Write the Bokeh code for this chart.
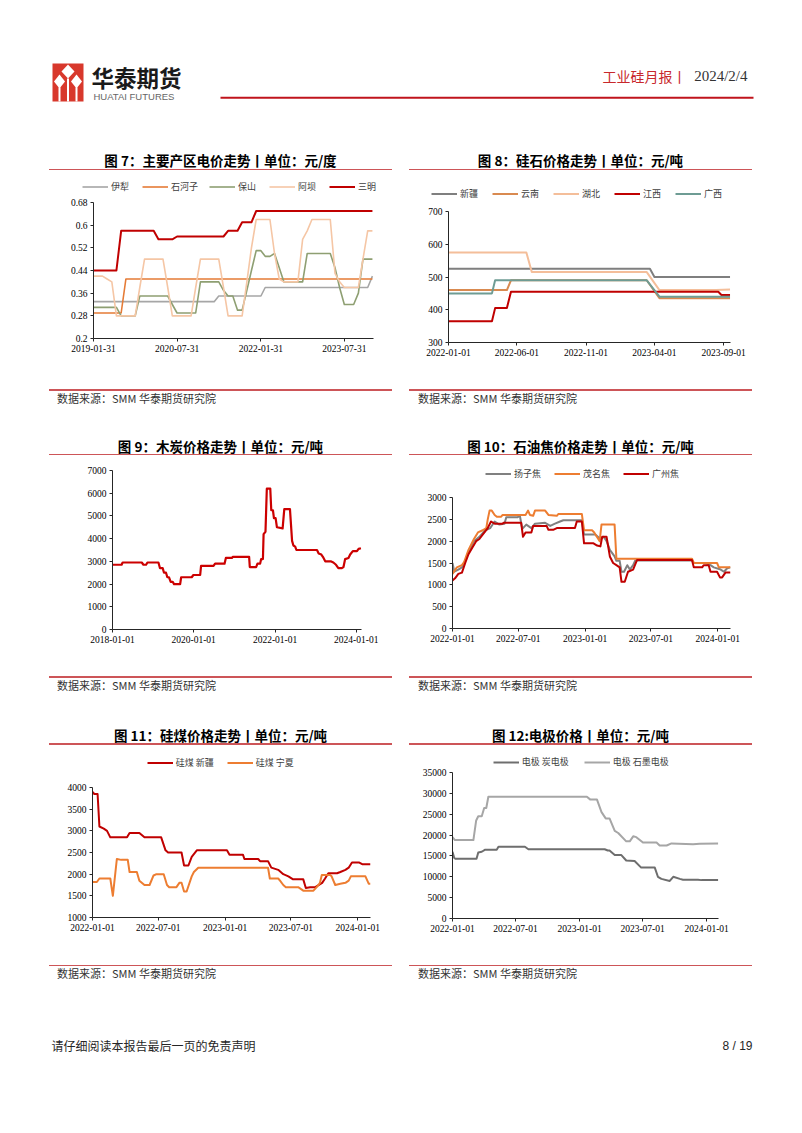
import pandas as pd
from bokeh.plotting import figure
from bokeh.layouts import column, row
from bokeh.models import Range1d, FixedTicker, Legend, LegendItem, ColumnDataSource, Div
from bokeh.core.properties import value
from bokeh.embed import file_html
from bokeh.resources import INLINE

CJK = "Noto Sans CJK SC"
SERIF = "Liberation Serif"
SANS = "Liberation Sans"

# ---------------- Chart 7: electricity price (monthly, 2019-01-31 .. 2024-01-31) ----------------
c7_first_month = "2019-01-31"
c7_names = ["伊犁", "石河子", "保山", "阿坝", "三明"]
c7_yili = [
    0.33, 0.33, 0.33, 0.33, 0.33, 0.33, 0.33, 0.33, 0.33, 0.33, 0.33, 0.33,
    0.33, 0.33, 0.33, 0.33, 0.33, 0.33, 0.33, 0.33, 0.33, 0.33, 0.33, 0.33,
    0.33, 0.33, 0.33, 0.35, 0.35, 0.35, 0.35, 0.35, 0.35, 0.35, 0.35, 0.35,
    0.35, 0.38, 0.38, 0.38, 0.38, 0.38, 0.38, 0.38, 0.38, 0.38, 0.38, 0.38,
    0.38, 0.38, 0.38, 0.38, 0.38, 0.38, 0.38, 0.38, 0.38, 0.38, 0.38, 0.38,
    0.42]
c7_shihezi = [
    0.29, 0.29, 0.29, 0.29, 0.29, 0.29, 0.29, 0.41, 0.41, 0.41, 0.41, 0.41,
    0.41, 0.41, 0.41, 0.41, 0.41, 0.41, 0.41, 0.41, 0.41, 0.41, 0.41, 0.41,
    0.41, 0.41, 0.41, 0.41, 0.41, 0.41, 0.41, 0.41, 0.41, 0.41, 0.41, 0.41,
    0.41, 0.41, 0.41, 0.41, 0.41, 0.41, 0.41, 0.41, 0.41, 0.41, 0.41, 0.41,
    0.41, 0.41, 0.41, 0.41, 0.41, 0.41, 0.41, 0.41, 0.41, 0.41, 0.41, 0.41,
    0.41]
c7_baoshan = [
    0.31, 0.31, 0.31, 0.31, 0.31, 0.31, 0.28, 0.28, 0.28, 0.28, 0.35, 0.35,
    0.35, 0.35, 0.35, 0.35, 0.35, 0.32, 0.29, 0.29, 0.29, 0.29, 0.29, 0.40,
    0.40, 0.40, 0.40, 0.40, 0.37, 0.35, 0.35, 0.30, 0.30, 0.37, 0.44, 0.51,
    0.51, 0.49, 0.49, 0.50, 0.45, 0.40, 0.40, 0.40, 0.40, 0.40, 0.50, 0.50,
    0.50, 0.50, 0.50, 0.50, 0.45, 0.38, 0.32, 0.32, 0.32, 0.36, 0.48, 0.48,
    0.48]
c7_aba = [
    0.42, 0.42, 0.42, 0.41, 0.40, 0.28, 0.28, 0.28, 0.28, 0.28, 0.38, 0.48,
    0.48, 0.48, 0.48, 0.48, 0.38, 0.28, 0.28, 0.28, 0.28, 0.28, 0.38, 0.48,
    0.48, 0.48, 0.48, 0.48, 0.38, 0.28, 0.28, 0.28, 0.28, 0.40, 0.52, 0.62,
    0.62, 0.62, 0.62, 0.50, 0.41, 0.40, 0.40, 0.40, 0.40, 0.55, 0.58, 0.62,
    0.62, 0.62, 0.62, 0.62, 0.43, 0.40, 0.38, 0.38, 0.38, 0.38, 0.48, 0.58,
    0.58]
c7_sanming = [
    0.44, 0.44, 0.44, 0.44, 0.44, 0.44, 0.58, 0.58, 0.58, 0.58, 0.58, 0.58,
    0.58, 0.58, 0.55, 0.55, 0.55, 0.55, 0.56, 0.56, 0.56, 0.56, 0.56, 0.56,
    0.56, 0.56, 0.56, 0.56, 0.56, 0.58, 0.58, 0.58, 0.61, 0.61, 0.61, 0.65,
    0.65, 0.65, 0.65, 0.65, 0.65, 0.65, 0.65, 0.65, 0.65, 0.65, 0.65, 0.65,
    0.65, 0.65, 0.65, 0.65, 0.65, 0.65, 0.65, 0.65, 0.65, 0.65, 0.65, 0.65,
    0.65]
c7_yticks = [0.2, 0.28, 0.36, 0.44, 0.52, 0.6, 0.68]
c7_ylabels = ["0.2", "0.28", "0.36", "0.44", "0.52", "0.6", "0.68"]
c7_xticks = ["2019-01-31", "2020-07-31", "2022-01-31", "2023-07-31"]

# ---------------- Chart 8: silica stone price ----------------
c8_names = ["新疆", "云南", "湖北", "江西", "广西"]
c8_xinjiang_d = ["2022-01-01", "2023-03-22", "2023-04-01", "2023-09-15"]
c8_xinjiang_v = [525, 525, 500, 500]
c8_yunnan_d = ["2022-01-01", "2022-05-10", "2022-05-19", "2023-03-15", "2023-04-12", "2023-09-15"]
c8_yunnan_v = [460, 460, 490, 490, 435, 435]
c8_hubei_d = ["2022-01-01", "2022-06-22", "2022-07-04", "2023-03-15", "2023-04-12", "2023-08-15", "2023-09-15"]
c8_hubei_v = [575, 575, 515, 515, 460, 460, 462]
c8_jiangxi_d = ["2022-01-01", "2022-04-07", "2022-04-14", "2022-05-10", "2022-05-19", "2023-08-20", "2023-08-27", "2023-09-15"]
c8_jiangxi_v = [365, 365, 405, 405, 455, 455, 445, 445]
c8_guangxi_d = ["2022-01-01", "2022-04-07", "2022-04-14", "2023-03-15", "2023-04-12", "2023-09-15"]
c8_guangxi_v = [450, 450, 490, 490, 440, 440]
c8_yticks = [300, 400, 500, 600, 700]
c8_xticks = ["2022-01-01", "2022-06-01", "2022-11-01", "2023-04-01", "2023-09-01"]

# ---------------- Chart 9: charcoal price ----------------
c9_d = ["2018-01-01", "2018-03-24", "2018-04-02", "2018-09-21", "2018-10-06", "2018-10-30", "2018-11-11",
        "2019-02-18", "2019-03-04", "2019-03-28", "2019-04-09", "2019-04-27", "2019-05-09", "2019-05-24",
        "2019-06-08", "2019-06-26", "2019-07-08", "2019-09-01", "2019-09-10", "2019-12-14", "2019-12-29",
        "2020-02-28", "2020-03-07", "2020-06-27", "2020-07-11", "2020-10-04", "2020-10-16", "2020-12-09",
        "2020-12-18", "2021-05-13", "2021-05-19", "2021-07-15", "2021-07-27", "2021-08-20", "2021-08-29",
        "2021-09-14", "2021-09-20", "2021-10-07", "2021-10-19", "2021-11-19", "2021-11-28", "2021-12-13",
        "2021-12-22", "2022-01-06", "2022-01-18", "2022-03-10", "2022-03-25", "2022-05-15", "2022-06-03",
        "2022-06-15", "2022-07-01", "2022-07-12", "2023-01-13", "2023-01-28", "2023-02-21", "2023-03-07",
        "2023-03-28", "2023-05-16", "2023-06-09", "2023-07-03", "2023-07-24", "2023-08-24", "2023-09-08",
        "2023-09-23", "2023-10-23", "2023-11-07", "2023-12-01", "2024-01-07", "2024-01-22", "2024-02-12"]
c9_v = [2850, 2850, 2950, 2950, 2850, 2850, 2950,
        2950, 2700, 2700, 2500, 2500, 2300, 2300,
        2100, 2100, 2000, 2000, 2300, 2300, 2400,
        2400, 2800, 2800, 2900, 2900, 3150, 3150,
        3200, 3200, 2750, 2750, 2900, 2900, 3100,
        3100, 4200, 4300, 6200, 6200, 5250, 5250,
        4900, 4900, 4500, 4450, 5300, 5300, 3900,
        3700, 3650, 3500, 3500, 3350, 3300, 3200,
        3000, 3000, 2950, 2850, 2700, 2700, 2750,
        3100, 3150, 3300, 3450, 3450, 3550, 3580]
c9_yticks = [0, 1000, 2000, 3000, 4000, 5000, 6000, 7000]
c9_xticks = ["2018-01-01", "2020-01-01", "2022-01-01", "2024-01-01"]

# ---------------- Chart 10: petroleum coke price ----------------
c10_names = ["扬子焦", "茂名焦", "广州焦"]
c10_yangzi_d = ["2022-01-01", "2022-01-06", "2022-01-17", "2022-01-27", "2022-02-05", "2022-02-14", "2022-03-01",
                "2022-03-16", "2022-04-01", "2022-04-15", "2022-04-27", "2022-05-10", "2022-05-24", "2022-05-29",
                "2022-06-30", "2022-07-05", "2022-07-12", "2022-07-23", "2022-08-06", "2022-08-16", "2022-09-13",
                "2022-09-27", "2022-10-10", "2022-10-24", "2022-11-02", "2022-12-23", "2022-12-29", "2023-01-29",
                "2023-02-12", "2023-02-21", "2023-03-01", "2023-03-10", "2023-03-23", "2023-03-28", "2023-04-06",
                "2023-04-11", "2023-04-18", "2023-04-27", "2023-05-04", "2023-05-13", "2023-05-19", "2023-10-22",
                "2023-10-27", "2023-11-28", "2023-12-12", "2023-12-21", "2024-01-09", "2024-01-18", "2024-01-27",
                "2024-02-05"]
c10_yangzi_v = [1500, 1300, 1350, 1400, 1550, 1750, 2000,
                2100, 2250, 2300, 2450, 2380, 2400, 2550,
                2550, 2600, 2280, 2380, 2300, 2400, 2420,
                2350, 2400, 2450, 2480, 2480, 2150, 2150,
                2050, 2100, 2000, 1800, 1650, 1550, 1550,
                1300, 1300, 1450, 1350, 1450, 1560, 1560,
                1500, 1500, 1450, 1400, 1350, 1300, 1380,
                1400]
c10_maoming_d = ["2022-01-01", "2022-01-13", "2022-01-27", "2022-02-02", "2022-02-14", "2022-03-01", "2022-03-12",
                 "2022-03-25", "2022-04-04", "2022-04-08", "2022-04-13", "2022-04-19", "2022-04-27", "2022-05-03",
                 "2022-05-15", "2022-05-19", "2022-07-21", "2022-07-28", "2022-08-02", "2022-08-11", "2022-08-16",
                 "2022-09-13", "2022-09-22", "2022-10-15", "2022-10-19", "2022-12-23", "2022-12-29", "2023-01-20",
                 "2023-01-26", "2023-02-10", "2023-02-15", "2023-03-23", "2023-03-28", "2023-10-22", "2023-10-27",
                 "2023-12-30", "2024-01-04", "2024-02-05"]
c10_maoming_v = [1250, 1400, 1450, 1520, 1800, 2050, 2200,
                 2250, 2300, 2500, 2700, 2700, 2600, 2560,
                 2560, 2600, 2600, 2700, 2600, 2580, 2700,
                 2700, 2600, 2580, 2620, 2620, 2250, 2250,
                 2200, 2000, 2380, 2380, 1600, 1600, 1500,
                 1500, 1400, 1400]
c10_guangzhou_d = ["2022-01-01", "2022-01-08", "2022-01-17", "2022-01-27", "2022-02-05", "2022-02-14", "2022-02-28",
                   "2022-03-07", "2022-03-16", "2022-03-25", "2022-04-08", "2022-04-17", "2022-04-27", "2022-05-19",
                   "2022-05-21", "2022-07-09", "2022-07-14", "2022-07-21", "2022-08-06", "2022-08-11", "2022-09-17",
                   "2022-09-22", "2022-10-05", "2022-10-15", "2022-12-04", "2022-12-09", "2022-12-23", "2022-12-29",
                   "2023-01-24", "2023-02-03", "2023-02-12", "2023-02-17", "2023-03-01", "2023-03-05", "2023-03-10",
                   "2023-03-19", "2023-03-28", "2023-04-06", "2023-04-11", "2023-04-20", "2023-04-29", "2023-05-13",
                   "2023-05-18", "2023-05-24", "2023-10-22", "2023-10-27", "2023-11-19", "2023-11-23", "2023-12-07",
                   "2023-12-12", "2023-12-30", "2024-01-07", "2024-01-13", "2024-01-22", "2024-02-05"]
c10_guangzhou_v = [1100, 1150, 1250, 1280, 1500, 1700, 1900,
                   2000, 2050, 2150, 2300, 2450, 2400, 2400,
                   2420, 2420, 2100, 2200, 2200, 2350, 2350,
                   2260, 2260, 2300, 2300, 2450, 2450, 1950,
                   1950, 1900, 1880, 2100, 2100, 1900, 1650,
                   1500, 1450, 1400, 1070, 1070, 1300, 1350,
                   1450, 1570, 1570, 1400, 1400, 1450, 1450,
                   1300, 1300, 1170, 1170, 1280, 1280]
c10_yticks = [0, 500, 1000, 1500, 2000, 2500, 3000]
c10_xticks = ["2022-01-01", "2022-07-01", "2023-01-01", "2023-07-01", "2024-01-01"]

# ---------------- Chart 11: silicon coal price ----------------
c11_names = ["硅煤 新疆", "硅煤 宁夏"]
c11_xj_d = ["2022-01-01", "2022-01-06", "2022-01-15", "2022-01-20", "2022-02-01", "2022-02-10", "2022-02-19",
            "2022-04-06", "2022-04-13", "2022-05-10", "2022-05-24", "2022-07-09", "2022-07-21", "2022-07-28",
            "2022-09-03", "2022-09-10", "2022-09-22", "2022-10-01", "2022-10-15", "2023-01-06", "2023-01-13",
            "2023-02-19", "2023-02-23", "2023-04-02", "2023-04-07", "2023-04-29", "2023-05-08", "2023-05-27",
            "2023-06-10", "2023-06-24", "2023-07-07", "2023-08-04", "2023-08-11", "2023-08-23", "2023-09-06",
            "2023-09-25", "2023-10-03", "2023-10-12", "2023-11-05", "2023-11-14", "2023-11-28", "2023-12-07",
            "2023-12-16", "2024-01-04", "2024-01-13", "2024-02-05"]
c11_xj_v = [3900, 3850, 3850, 3100, 3050, 3000, 2850,
            2850, 2950, 2950, 2850, 2850, 2550, 2500,
            2500, 2200, 2200, 2400, 2550, 2550, 2450,
            2450, 2350, 2350, 2300, 2300, 2150, 2100,
            2000, 1950, 1880, 1880, 1680, 1700, 1700,
            1800, 1900, 2020, 2020, 2050, 2100, 2150,
            2270, 2270, 2230, 2230]
c11_nx_d = ["2022-01-01", "2022-01-13", "2022-01-20", "2022-02-19", "2022-02-26", "2022-03-09", "2022-03-21",
            "2022-04-08", "2022-04-13", "2022-05-03", "2022-05-10", "2022-05-24", "2022-06-07", "2022-06-18",
            "2022-06-26", "2022-07-16", "2022-07-25", "2022-07-31", "2022-08-20", "2022-08-28", "2022-09-03",
            "2022-09-10", "2022-09-17", "2022-10-01", "2022-10-07", "2022-10-19", "2023-04-29", "2023-05-04",
            "2023-05-27", "2023-06-01", "2023-06-10", "2023-06-17", "2023-07-21", "2023-07-30", "2023-08-04",
            "2023-09-01", "2023-09-10", "2023-09-19", "2023-09-24", "2023-10-17", "2023-10-21", "2023-10-31",
            "2023-11-14", "2023-11-28", "2023-12-07", "2023-12-13", "2024-01-22", "2024-01-31", "2024-02-05"]
c11_nx_v = [1820, 1820, 1900, 1900, 1500, 2350, 2330,
            2330, 2050, 2050, 1850, 1750, 1750, 1970,
            2000, 2000, 1750, 1700, 1700, 1800, 1800,
            1600, 1600, 1950, 2050, 2150, 2150, 1900,
            1900, 1850, 1750, 1700, 1700, 1650, 1620,
            1620, 1700, 1800, 1980, 1980, 1950, 1750,
            1780, 1800, 1850, 1950, 1950, 1780, 1780]
c11_yticks = [1000, 1500, 2000, 2500, 3000, 3500, 4000]
c11_xticks = ["2022-01-01", "2022-07-01", "2023-01-01", "2023-07-01", "2024-01-01"]

# ---------------- Chart 12: electrode price ----------------
c12_names = ["电极 炭电极", "电极 石墨电极"]
c12_carbon_d = ["2022-01-01", "2022-01-06", "2022-01-10", "2022-03-11", "2022-03-16", "2022-03-26", "2022-04-05",
                "2022-05-08", "2022-05-13", "2022-07-28", "2022-08-07", "2023-03-14", "2023-03-23", "2023-03-28",
                "2023-04-12", "2023-05-01", "2023-05-15", "2023-06-08", "2023-06-27", "2023-08-05", "2023-08-14",
                "2023-08-24", "2023-09-17", "2023-09-27", "2023-10-16", "2023-10-25", "2023-12-07", "2023-12-17",
                "2024-02-03"]
c12_carbon_v = [16000, 14500, 14300, 14300, 15800, 16000, 16500,
                16500, 17200, 17200, 16600, 16600, 16300, 16300,
                15200, 15200, 13900, 13800, 12200, 12200, 10000,
                9500, 9000, 10000, 9500, 9300, 9300, 9200,
                9200]
c12_graphite_d = ["2022-01-01", "2022-01-08", "2022-03-02", "2022-03-10", "2022-03-16", "2022-03-26", "2022-04-02",
                  "2022-04-08", "2022-04-14", "2023-01-22", "2023-02-01", "2023-02-20", "2023-03-05", "2023-03-17",
                  "2023-03-28", "2023-04-12", "2023-04-22", "2023-05-15", "2023-05-25", "2023-06-04", "2023-06-13",
                  "2023-07-02", "2023-08-10", "2023-08-19", "2023-09-08", "2023-09-22", "2023-11-23", "2023-12-12",
                  "2024-02-03"]
c12_graphite_v = [19500, 18800, 18800, 23500, 24500, 24500, 26500,
                  26500, 29200, 29200, 28500, 28500, 25500, 24000,
                  24000, 21000, 20500, 18500, 18500, 19700, 19500,
                  18200, 18200, 17500, 17500, 18000, 17800, 17900,
                  18000]
c12_yticks = [0, 5000, 10000, 15000, 20000, 25000, 30000, 35000]
c12_xticks = ["2022-01-01", "2022-07-01", "2023-01-01", "2023-07-01", "2024-01-01"]

# ---------------- texts / styles ----------------
titles = ["图 7：主要产区电价走势丨单位：元/度", "图 8：硅石价格走势丨单位：元/吨",
          "图 9：木炭价格走势丨单位：元/吨", "图 10：石油焦价格走势丨单位：元/吨",
          "图 11：硅煤价格走势丨单位：元/吨", "图 12:电极价格丨单位：元/吨"]
source_text = "数据来源：SMM 华泰期货研究院"
LINE_RED = "#CD5558"
c7_colors = ["#A6A6A6", "#E57B36", "#8E9F72", "#F5C6A5", "#C00000"]
c7_widths = [1.6, 1.6, 1.6, 1.6, 2.0]
c8_colors = ["#7F7F7F", "#D98A50", "#F4BE9A", "#C00000", "#6E9C94"]
c10_colors = ["#808080", "#ED7D31", "#C00000"]
c11_colors = ["#C00000", "#ED7D31"]
c12_colors = ["#6E6E6E", "#A6A6A6"]
NAN = float("nan")


def ms(s):
    return float(pd.Timestamp(s).value // 10**6)


def deco(w, h):
    f = figure(width=w, height=h, x_range=Range1d(0, w), y_range=Range1d(h, 0),
               x_axis_type=None, y_axis_type=None, output_backend="svg",
               toolbar_location=None, min_border=0)
    f.outline_line_color = None
    f.grid.visible = False
    return f


def chart(w, h, borders, xr, yr, xticks, yticks, ylabels=None):
    l, r, t, b = borders
    p = figure(width=w, height=h, x_axis_type="datetime",
               x_range=Range1d(pd.Timestamp(xr[0]).to_pydatetime(), pd.Timestamp(xr[1]).to_pydatetime()),
               y_range=Range1d(yr[0], yr[1]), output_backend="svg", toolbar_location=None,
               min_border_left=l, min_border_right=r, min_border_top=t, min_border_bottom=b)
    p.grid.visible = False
    p.outline_line_color = None
    for ax in p.axis:
        ax.axis_line_color = "#262626"
        ax.major_tick_line_color = "#262626"
        ax.major_tick_out = 3
        ax.major_tick_in = 0
        ax.minor_tick_line_color = None
        ax.major_label_text_font = SERIF
        ax.major_label_text_font_size = "9.5px"
        ax.major_label_text_color = "#000000"
        ax.major_label_standoff = 3
    p.xaxis.ticker = FixedTicker(ticks=[ms(d) for d in xticks], minor_ticks=[])
    p.xaxis.major_label_overrides = {ms(d): d for d in xticks}
    p.yaxis.ticker = FixedTicker(ticks=yticks, minor_ticks=[])
    if ylabels is not None:
        p.yaxis.major_label_overrides = dict(zip(yticks, ylabels))
    return p


def add_line(p, dates, vals, color, width=2.0):
    src = ColumnDataSource(dict(x=pd.to_datetime(dates), y=vals))
    return p.line("x", "y", source=src, line_color=color, line_width=width, line_join="round")


def legend_fig(h, names, colors, widths, loc, spacing, lh=13):
    # a strip above the chart that only holds the chart's legend (proxy line renderers without data)
    f = figure(width=401, height=h, x_range=Range1d(0, 1), y_range=Range1d(0, 1),
               x_axis_type=None, y_axis_type=None, output_backend="svg",
               toolbar_location=None, min_border=0)
    f.outline_line_color = None
    f.grid.visible = False
    rs = [f.line(x=[NAN], y=[NAN], line_color=c, line_width=w) for c, w in zip(colors, widths)]
    items = [LegendItem(label=n, renderers=[r]) for n, r in zip(names, rs)]
    leg = Legend(items=items, location=loc, orientation="horizontal",
                 label_text_font=CJK, label_text_font_size="9px", label_text_color="#404040",
                 glyph_width=26, glyph_height=lh, label_height=lh, label_standoff=3,
                 spacing=spacing, padding=0, margin=0, border_line_color=None,
                 background_fill_alpha=0)
    f.add_layout(leg)
    return row(f)


def title_div(h, text, cx, ty, x0, x1, ly):
    html = ('<div style="position:relative;width:401px;height:%dpx;overflow:visible;">'
            '<div style="position:absolute;left:%.1fpx;width:400px;top:%.1fpx;height:20px;line-height:20px;'
            'text-align:center;font-family:\'Noto Sans CJK SC\';font-weight:bold;font-size:13.5px;'
            'color:#000;white-space:nowrap;">%s</div>'
            '<div style="position:absolute;left:%dpx;width:%dpx;top:%.1fpx;height:1.2px;background:%s;"></div>'
            '</div>') % (h, cx - 200, ty - 10, text, x0, x1 - x0, ly - 0.6, LINE_RED)
    return Div(text=html, width=401, height=h, margin=0)


def source_div(h, tx, ty, x0, x1, ly):
    html = ('<div style="position:relative;width:401px;height:%dpx;overflow:visible;">'
            '<div style="position:absolute;left:%dpx;width:%dpx;top:%.1fpx;height:1.2px;background:%s;"></div>'
            '<div style="position:absolute;left:%dpx;top:%.1fpx;height:16px;line-height:16px;'
            'font-family:\'Noto Sans CJK SC\';font-size:11px;color:#333;white-space:nowrap;">%s</div>'
            '</div>') % (h, x0, x1 - x0, ly - 0.6, LINE_RED, tx, ty - 8, source_text)
    return Div(text=html, width=401, height=h, margin=0)


# ---------------- header (page coordinates) ----------------
hdr = deco(802, 140)
hdr.quad(left=[52], right=[83], top=[63], bottom=[101], fill_color="#D8382C", line_color=None)
def diamond(cx, cy, rx, ry):
    return [cx, cx + rx, cx, cx - rx], [cy - ry, cy, cy + ry, cy]
dx, dy = [], []
for cx, cy, rx, ry in [(67.5, 71, 6.5, 7), (59, 81, 5.5, 7), (76, 81, 5.5, 7)]:
    a, b = diamond(cx, cy, rx, ry)
    dx.append(a)
    dy.append(b)
hdr.patches(xs=dx, ys=dy, fill_color="white", line_color=None)
hdr.quad(left=[58, 66.5, 75], right=[60, 68.5, 77], top=[87, 78, 87], bottom=[101, 101, 101],
         fill_color="white", line_color=None)
hdr.text(x=[91], y=[76], text=["华泰期货"], text_font=value(CJK), text_font_size="22.5px",
         text_font_style="bold", text_color="#1a1a1a", text_baseline="middle")
hdr.text(x=[93], y=[95.5], text=["HUATAI FUTURES"], text_font=value(SANS), text_font_size="9.5px",
         text_color="#666666", text_baseline="middle")
hdr.text(x=[602], y=[75], text=["工业硅月报丨"], text_font=value(CJK), text_font_size="14px",
         text_color="#C8282C", text_baseline="middle")
hdr.text(x=[747], y=[75], text=["2024/2/4"], text_font=value(SERIF), text_font_size="15px",
         text_color="#333333", text_baseline="middle", text_align="right")
hdr.segment(x0=[220], y0=[97.3], x1=[753], y1=[97.3], line_color="#C0141C", line_width=2)

# ---------------- chart 7 ----------------
c7_dates = [pd.Timestamp(c7_first_month) + pd.offsets.MonthEnd(i) for i in range(len(c7_yili))]
p7 = chart(401, 185, (93, 28, 7, 42), ("2019-01-31", "2024-02-07"), (0.2, 0.68), c7_xticks, c7_yticks, c7_ylabels)
for vals, c, w in zip([c7_yili, c7_shihezi, c7_baoshan, c7_aba, c7_sanming], c7_colors, c7_widths):
    add_line(p7, c7_dates, vals, c, w)
lg7 = legend_fig(24, c7_names, c7_colors, c7_widths, (82, 2.5), 11)

# ---------------- chart 8 ----------------
p8 = chart(401, 177, (47, 72, 8, 38), ("2022-01-01", "2023-09-16"), (300, 700), c8_xticks, c8_yticks)
for d, v, c in zip([c8_xinjiang_d, c8_yunnan_d, c8_hubei_d, c8_jiangxi_d, c8_guangxi_d],
                   [c8_xinjiang_v, c8_yunnan_v, c8_hubei_v, c8_jiangxi_v, c8_guangxi_v], c8_colors):
    add_line(p8, d, v, c)
lg8 = legend_fig(32, c8_names, c8_colors, [2] * 5, (30, 3.5), 12)

# ---------------- chart 9 ----------------
p9 = chart(401, 212, (112, 40, 14, 39), ("2018-01-01", "2024-02-17"), (0, 7000), c9_xticks, c9_yticks)
add_line(p9, c9_d, c9_v, "#CC0000", 2.2)

# ---------------- chart 10 ----------------
p10 = chart(401, 183, (51, 72, 12, 40), ("2022-01-01", "2024-02-05"), (0, 3000), c10_xticks, c10_yticks)
for d, v, c in zip([c10_yangzi_d, c10_maoming_d, c10_guangzhou_d],
                   [c10_yangzi_v, c10_maoming_v, c10_guangzhou_v], c10_colors):
    add_line(p10, d, v, c)
lg10 = legend_fig(29, c10_names, c10_colors, [2] * 3, (84, 5.2), 13)

# ---------------- chart 11 ----------------
p11 = chart(401, 182, (92, 31, 12, 40), ("2022-01-01", "2024-02-05"), (1000, 4000), c11_xticks, c11_yticks)
for d, v, c in zip([c11_xj_d, c11_nx_d], [c11_xj_v, c11_nx_v], c11_colors):
    add_line(p11, d, v, c)
lg11 = legend_fig(29, c11_names, c11_colors, [2] * 2, (146.7, 6.2), 13)

# ---------------- chart 12 ----------------
p12 = chart(401, 189, (51, 84, 4, 39), ("2022-01-01", "2024-02-04"), (0, 35000), c12_xticks, c12_yticks)
for d, v, c in zip([c12_carbon_d, c12_graphite_d], [c12_carbon_v, c12_graphite_v], c12_colors):
    add_line(p12, d, v, c)
lg12 = legend_fig(22, c12_names, c12_colors, [2] * 2, (91.7, 0), 15, lh=12)

# ---------------- blocks ----------------
L0, L1 = 49, 392   # left block line extent (column-local = page x)
R0, R1 = 8, 351    # right block line extent (page x - 401)
col7 = column(title_div(31, titles[0], 220.5, 20, L0, L1, 29.5), lg7, p7, source_div(40, 57, 17.5, L0, L1, 10))
col8 = column(title_div(31, titles[1], 179.5, 20, R0, R1, 29.5), lg8, p8, source_div(40, 17, 17.5, R0, R1, 10))
col9 = column(title_div(36, titles[2], 220.5, 26, L0, L1, 34.5), p9, source_div(42, 57, 17, L0, L1, 9))
col10 = column(title_div(36, titles[3], 179.5, 26, R0, R1, 34.5), lg10, p10, source_div(42, 17, 17, R0, R1, 9))
col11 = column(title_div(36, titles[4], 220.5, 25, L0, L1, 34), lg11, p11, source_div(43, 57, 16, L0, L1, 8.7))
col12 = column(title_div(36, titles[5], 179.5, 25, R0, R1, 34), lg12, p12, source_div(43, 17, 16, R0, R1, 8.7))

# ---------------- footer ----------------
ftr = deco(802, 133)
ftr.text(x=[51], y=[45], text=["请仔细阅读本报告最后一页的免责声明"], text_font=value(CJK),
         text_font_size="12px", text_color="#262626", text_baseline="middle")
ftr.text(x=[752], y=[45], text=["8 / 19"], text_font=value(SANS), text_font_size="12px",
         text_color="#262626", text_baseline="middle", text_align="right")

layout = column(hdr, row(col7, col8), row(col9, col10), row(col11, col12), ftr)

open("out.html", "w").write(file_html(layout, INLINE))
